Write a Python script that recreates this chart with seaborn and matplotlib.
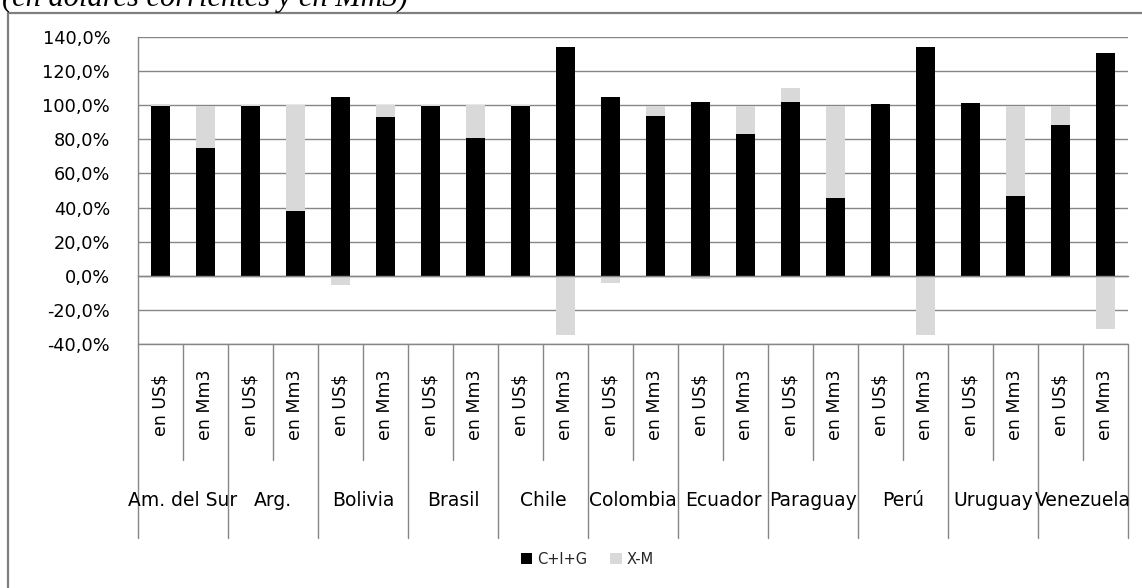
import numpy as np
import pandas as pd
import matplotlib
matplotlib.use("Agg")
import matplotlib.pyplot as plt
import seaborn as sns
from matplotlib.patches import Patch
from matplotlib.lines import Line2D

# ---------------- data ----------------
countries = ["Am. del Sur", "Arg.", "Bolivia", "Brasil", "Chile", "Colombia",
             "Ecuador", "Paraguay", "Perú", "Uruguay", "Venezuela"]
units = ["en US$", "en Mm3"]
# C+I+G share (%), in the order country/unit
cig = [99.3, 75.2, 99.6, 38.1, 104.9, 93.2, 99.6, 80.9, 99.4, 134.2, 104.9,
       93.8, 102.0, 83.2, 102.0, 45.7, 100.8, 134.2, 101.4, 46.9, 88.5, 130.7]
# X-M share (%)
xm = [1.5, 24.6, 0.4, 61.9, -5.3, 6.8, 0.4, 19.1, 0.6, -35.0, -4.5,
      6.0, -2.1, 16.4, 8.2, 53.9, -1.0, -35.0, -1.0, 52.7, 11.1, -31.4]
series_names = ["C+I+G", "X-M"]
y_ticks = [-40, -20, 0, 20, 40, 60, 80, 100, 120, 140]
title = "(en dólares corrientes y en Mm3)"

# ---------------- styling ----------------
BLACK = "#000000"
GRAY = "#d9d9d9"
LINE = "#868686"
W, H = 1142, 588

sns.set_style("white")
plt.rcParams["font.family"] = ["DejaVu Sans"]

keys = [f"{c}|{u}" for c in countries for u in units]
unit_labels = [u for c in countries for u in units]
df = pd.DataFrame({"key": keys, "cig": cig, "xm": xm})
df["pos_top"] = df["cig"] + df["xm"].clip(lower=0)
df["neg"] = df["xm"].clip(upper=0)

fig = plt.figure(figsize=(W / 100, H / 100), dpi=100)
ax = fig.add_axes([138 / W, 1 - 344 / H, (1128 - 138) / W, (344 - 37) / H])

bw = 0.42
common = dict(data=df, x="key", order=keys, width=bw, saturation=1,
              errorbar=None, linewidth=0, ax=ax)
sns.barplot(y="pos_top", color=GRAY, **common)
sns.barplot(y="neg", color=GRAY, **common)
sns.barplot(y="cig", color=BLACK, **common)

ax.set_xlim(-0.5, len(keys) - 0.5)
ax.set_ylim(-40, 140)
ax.set_xlabel("")
ax.set_ylabel("")

# y axis
ax.set_yticks(y_ticks)
ax.set_yticklabels([f"{v:.1f}%".replace(".", ",") for v in y_ticks])
ax.yaxis.grid(True, color=LINE, lw=1.0)
ax.xaxis.grid(False)
ax.set_axisbelow(True)
ax.tick_params(axis="y", direction="out", length=7, width=0.9, color=LINE,
               pad=13, labelsize=12.8, labelcolor="#000000")

# spines
for s in ["top", "right"]:
    ax.spines[s].set_visible(False)
ax.spines["left"].set_color(LINE)
ax.spines["left"].set_linewidth(1.0)
ax.spines["bottom"].set_position(("data", 0))
ax.spines["bottom"].set_color(LINE)
ax.spines["bottom"].set_linewidth(1.0)

# category tick marks at zero line
ax.set_xticks(np.arange(-0.5, len(keys), 1.0))
ax.tick_params(axis="x", direction="out", length=6.5, width=0.9, color=LINE,
               labelbottom=False)

# bottom line at -40
ax.axhline(-40, color=LINE, lw=1.0, clip_on=False, zorder=0.5)

# multi-level category label table
trans = ax.get_xaxis_transform()
ah = (344 - 37)
short_end = -(460 - 344) / ah
long_end = -(538 - 344) / ah
for k in range(len(keys) + 1):
    x = k - 0.5
    yend = long_end if k % 2 == 0 else short_end
    ax.plot([x, x], [0, yend], transform=trans, clip_on=False,
            color=LINE, lw=1.0)

for i, lab in enumerate(unit_labels):
    ax.text(i, -(405 - 344) / ah, lab, rotation=90, ha="center", va="center",
            transform=trans, fontsize=12.5, color="#000000")
for j, c in enumerate(countries):
    ax.text(2 * j + 0.5, -(500 - 344) / ah, c, ha="center", va="center",
            transform=trans, fontsize=13.5, color="#000000")

# legend
handles = [Patch(facecolor=BLACK, edgecolor="none", label=series_names[0]),
           Patch(facecolor=GRAY, edgecolor="none", label=series_names[1])]
fig.legend(handles=handles, loc="center", bbox_to_anchor=(587 / W, 1 - 559 / H),
           ncol=2, frameon=False, handlelength=0.8, handleheight=0.8,
           fontsize=10.5, columnspacing=1.6, handletextpad=0.3)

# outer chart frame (left and top visible)
fig.add_artist(Line2D([8 / W, 8 / W], [0, 1 - 13 / H], transform=fig.transFigure,
                      color="#7f7f7f", lw=1.6))
fig.add_artist(Line2D([8 / W, 1], [1 - 13 / H, 1 - 13 / H], transform=fig.transFigure,
                      color="#7f7f7f", lw=1.6))

# title (cut off at the top edge, as in the reference)
fig.text(2 / W, 1 - 6 / H, title, family="Liberation Serif", style="italic",
         fontsize=22, va="baseline", ha="left", color="#000000")

fig.savefig("out.png", dpi=100)
